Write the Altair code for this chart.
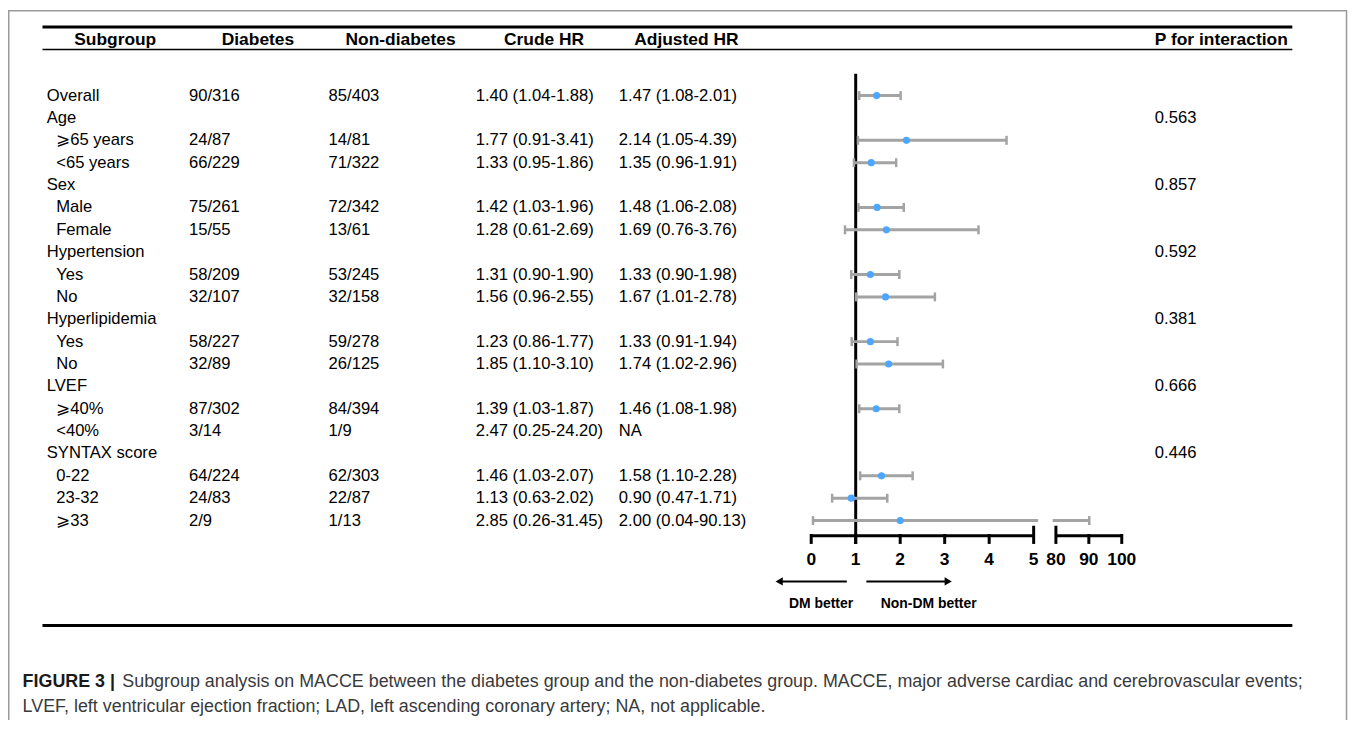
import altair as alt
import pandas as pd

# ---------------- data ----------------
subgroups = ["Overall", "Age", "⩾65 years", "<65 years", "Sex", "Male", "Female",
             "Hypertension", "Yes", "No", "Hyperlipidemia", "Yes", "No", "LVEF",
             "⩾40%", "<40%", "SYNTAX score", "0-22", "23-32", "⩾33"]
is_child = [False, False, True, True, False, True, True, False, True, True, False,
            True, True, False, True, True, False, True, True, True]
diabetes_events = ["90/316", "", "24/87", "66/229", "", "75/261", "15/55", "", "58/209",
                   "32/107", "", "58/227", "32/89", "", "87/302", "3/14", "", "64/224",
                   "24/83", "2/9"]
non_diabetes_events = ["85/403", "", "14/81", "71/322", "", "72/342", "13/61", "", "53/245",
                       "32/158", "", "59/278", "26/125", "", "84/394", "1/9", "", "62/303",
                       "22/87", "1/13"]
crude_hr = ["1.40 (1.04-1.88)", "", "1.77 (0.91-3.41)", "1.33 (0.95-1.86)", "",
            "1.42 (1.03-1.96)", "1.28 (0.61-2.69)", "", "1.31 (0.90-1.90)",
            "1.56 (0.96-2.55)", "", "1.23 (0.86-1.77)", "1.85 (1.10-3.10)", "",
            "1.39 (1.03-1.87)", "2.47 (0.25-24.20)", "", "1.46 (1.03-2.07)",
            "1.13 (0.63-2.02)", "2.85 (0.26-31.45)"]
adjusted_hr = [1.47, None, 2.14, 1.35, None, 1.48, 1.69, None, 1.33, 1.67, None, 1.33,
               1.74, None, 1.46, None, None, 1.58, 0.90, 2.00]
adjusted_lo = [1.08, None, 1.05, 0.96, None, 1.06, 0.76, None, 0.90, 1.01, None, 0.91,
               1.02, None, 1.08, None, None, 1.10, 0.47, 0.04]
adjusted_hi = [2.01, None, 4.39, 1.91, None, 2.08, 3.76, None, 1.98, 2.78, None, 1.94,
               2.96, None, 1.98, None, None, 2.28, 1.71, 90.13]
p_interaction = ["", "0.563", "", "", "0.857", "", "", "0.592", "", "", "0.381", "", "",
                 "0.666", "", "", "0.446", "", "", ""]
headers = ["Subgroup", "Diabetes", "Non-diabetes", "Crude HR", "Adjusted HR",
           "P for interaction"]
tick_values = [0, 1, 2, 3, 4, 5, 80, 90, 100]
tall_tick_values = [5, 80]
axis_from = [0, 80]
axis_to = [5, 100]
ci_break = [5.1, 79.0]          # where a CI crossing the axis break is cut
reference_hr = [1]
arrow_left = [0.8, -0.72]       # tail, head (HR units)
arrow_right = [1.24, 3.08]
favour_labels = ["DM better", "Non-DM better"]
favour_at = [0.22, 2.64]
caption_bold = "FIGURE 3 |"
caption_line1 = ("Subgroup analysis on MACCE between the diabetes group and the non-diabetes "
                 "group. MACCE, major adverse cardiac and cerebrovascular events;")
caption_line2 = ("LVEF, left ventricular ejection fraction; LAD, left ascending coronary "
                 "artery; NA, not applicable.")

# ---------------- layout / style ----------------
W, H = 1349, 712
FONT = "Liberation Sans"
GREY = "#a3a3a3"
BLUE = "#4da6ff"


def to_axis(v):
    """Broken axis: 0-5 linear, 80-100 compressed after a gap."""
    return v if v <= 5.3 else 5.5 + (v - 80.0) * 0.074


xscale = alt.Scale(domain=[0, 6.98], range=[808, 1120.4], nice=False, zero=False)
yscale = alt.Scale(domain=[0, 19], range=[86, 513.5], nice=False, zero=False)
X = lambda f: alt.X(f, scale=xscale, axis=None)
Y = alt.Y("row:Q", scale=yscale, axis=None)

rows = pd.DataFrame({
    "row": list(range(len(subgroups))),
    "label": subgroups,
    "child": is_child,
    "dm": diabetes_events,
    "ndm": non_diabetes_events,
    "crude": crude_hr,
    "adj": [("%.2f (%.2f-%.2f)" % (h, l, u)) if h is not None else ("NA" if c else "")
            for h, l, u, c in zip(adjusted_hr, adjusted_lo, adjusted_hi, is_child)],
    "p": p_interaction,
})

pts, segs, caps = [], [], []
for i, (h, lo, hi) in enumerate(zip(adjusted_hr, adjusted_lo, adjusted_hi)):
    if h is None:
        continue
    pts.append({"row": i, "x": to_axis(h)})
    caps.append({"row": i, "x": to_axis(lo)})
    caps.append({"row": i, "x": to_axis(hi)})
    if hi > ci_break[0]:
        segs.append({"row": i, "a": to_axis(lo), "b": to_axis(ci_break[0])})
        segs.append({"row": i, "a": to_axis(ci_break[1]), "b": to_axis(hi)})
    else:
        segs.append({"row": i, "a": to_axis(lo), "b": to_axis(hi)})
pts, segs, caps = pd.DataFrame(pts), pd.DataFrame(segs), pd.DataFrame(caps)

one = pd.DataFrame({"k": [0]})
layers = []

# outer frame
layers.append(alt.Chart(one).mark_rect(fillOpacity=0, stroke="#9a9a9a", strokeWidth=1.5).encode(
    x=alt.value(0.75), x2=alt.value(W - 2.5), y=alt.value(0.75), y2=alt.value(H + 20)))

# table rules
for y, sw in [(17, 3), (39.7, 1.6), (619, 3)]:
    layers.append(alt.Chart(one).mark_rule(color="black", strokeWidth=sw).encode(
        x=alt.value(34.7), x2=alt.value(1292), y=alt.value(y)))

# headers
header_x = [66.6, 215, 339.5, 499, 630, 1153.7]
for name, hx in zip(headers, header_x):
    layers.append(alt.Chart(pd.DataFrame({"t": [name]})).mark_text(
        align="left", baseline="alphabetic", font=FONT, fontSize=17.5, fontWeight="bold",
        color="black").encode(x=alt.value(hx), y=alt.value(35), text="t:N"))

# table columns
txt = dict(align="left", baseline="middle", font=FONT, fontSize=16.7, color="black")
layers.append(alt.Chart(rows[~rows.child]).mark_text(**txt).encode(
    x=alt.value(39), y=Y, text="label:N"))
layers.append(alt.Chart(rows[rows.child]).mark_text(**txt).encode(
    x=alt.value(48.5), y=Y, text="label:N"))
for col, cx in [("dm", 182), ("ndm", 322.5), ("crude", 470.5), ("adj", 614.5), ("p", 1153.7)]:
    layers.append(alt.Chart(rows).mark_text(**txt).encode(x=alt.value(cx), y=Y, text=f"{col}:N"))

# forest plot
layers.append(alt.Chart(pd.DataFrame({"v": reference_hr})).mark_rule(
    color="black", strokeWidth=3).encode(x=X("v:Q"), y=alt.value(64), y2=alt.value(537)))
layers.append(alt.Chart(segs).mark_rule(color=GREY, strokeWidth=3).encode(
    x=X("a:Q"), x2="b:Q", y=Y))
layers.append(alt.Chart(caps).mark_rule(color=GREY, strokeWidth=2.5, yOffset=-4.5,
                                        y2Offset=4.5).encode(x=X("x:Q"), y=Y, y2="row:Q"))
layers.append(alt.Chart(pts).mark_circle(size=52, color=BLUE, opacity=1).encode(
    x=X("x:Q"), y=Y))

# broken x axis
ax = pd.DataFrame({"a": [to_axis(v) for v in axis_from], "b": [to_axis(v) for v in axis_to]})
layers.append(alt.Chart(ax).mark_rule(color="black", strokeWidth=3).encode(
    x=X("a:Q"), x2="b:Q", y=alt.value(528.7)))
tk = pd.DataFrame({"v": tick_values, "x": [to_axis(v) for v in tick_values],
                   "tall": [v in tall_tick_values for v in tick_values]})
layers.append(alt.Chart(tk[~tk.tall]).mark_rule(color="black", strokeWidth=3).encode(
    x=X("x:Q"), y=alt.value(527), y2=alt.value(537)))
layers.append(alt.Chart(tk[tk.tall]).mark_rule(color="black", strokeWidth=3).encode(
    x=X("x:Q"), y=alt.value(518.7), y2=alt.value(537)))
layers.append(alt.Chart(tk).mark_text(font=FONT, fontSize=17.5, fontWeight="bold", color="black",
                                      baseline="middle").encode(
    x=X("x:Q"), y=alt.value(553.7), text="v:N"))

# direction arrows
arr = pd.DataFrame({"a": [arrow_left[0], arrow_right[0]], "b": [arrow_left[1], arrow_right[1]],
                    "shape": ["triangle-left", "triangle-right"]})
layers.append(alt.Chart(arr).mark_rule(color="black", strokeWidth=2).encode(
    x=X("a:Q"), x2="b:Q", y=alt.value(574.7)))
layers.append(alt.Chart(arr).mark_point(filled=True, color="black", size=70, opacity=1).encode(
    x=X("b:Q"), y=alt.value(574.7),
    shape=alt.Shape("shape:N", scale=None, legend=None)))
fav = pd.DataFrame({"t": favour_labels, "x": favour_at})
layers.append(alt.Chart(fav).mark_text(font=FONT, fontSize=14, fontWeight="bold", color="black",
                                       baseline="middle").encode(
    x=X("x:Q"), y=alt.value(597), text="t:N"))

# caption
cap = dict(align="left", baseline="middle", font=FONT, fontSize=18)
layers.append(alt.Chart(pd.DataFrame({"t": [caption_bold]})).mark_text(
    fontWeight="bold", color="#1a1a1a", **cap).encode(x=alt.value(14.7), y=alt.value(676), text="t:N"))
layers.append(alt.Chart(pd.DataFrame({"t": [caption_line1]})).mark_text(
    color="#3a3a3a", **cap).encode(x=alt.value(115), y=alt.value(676), text="t:N"))
layers.append(alt.Chart(pd.DataFrame({"t": [caption_line2]})).mark_text(
    color="#3a3a3a", **cap).encode(x=alt.value(14.7), y=alt.value(701), text="t:N"))

chart = alt.layer(*layers).properties(
    width=W, height=H, padding=0, autosize=alt.AutoSizeParams(type="none"),
    background="white",
).configure_view(stroke=None)

chart.save("out.html", embed_options={"renderer": "svg", "actions": False})
